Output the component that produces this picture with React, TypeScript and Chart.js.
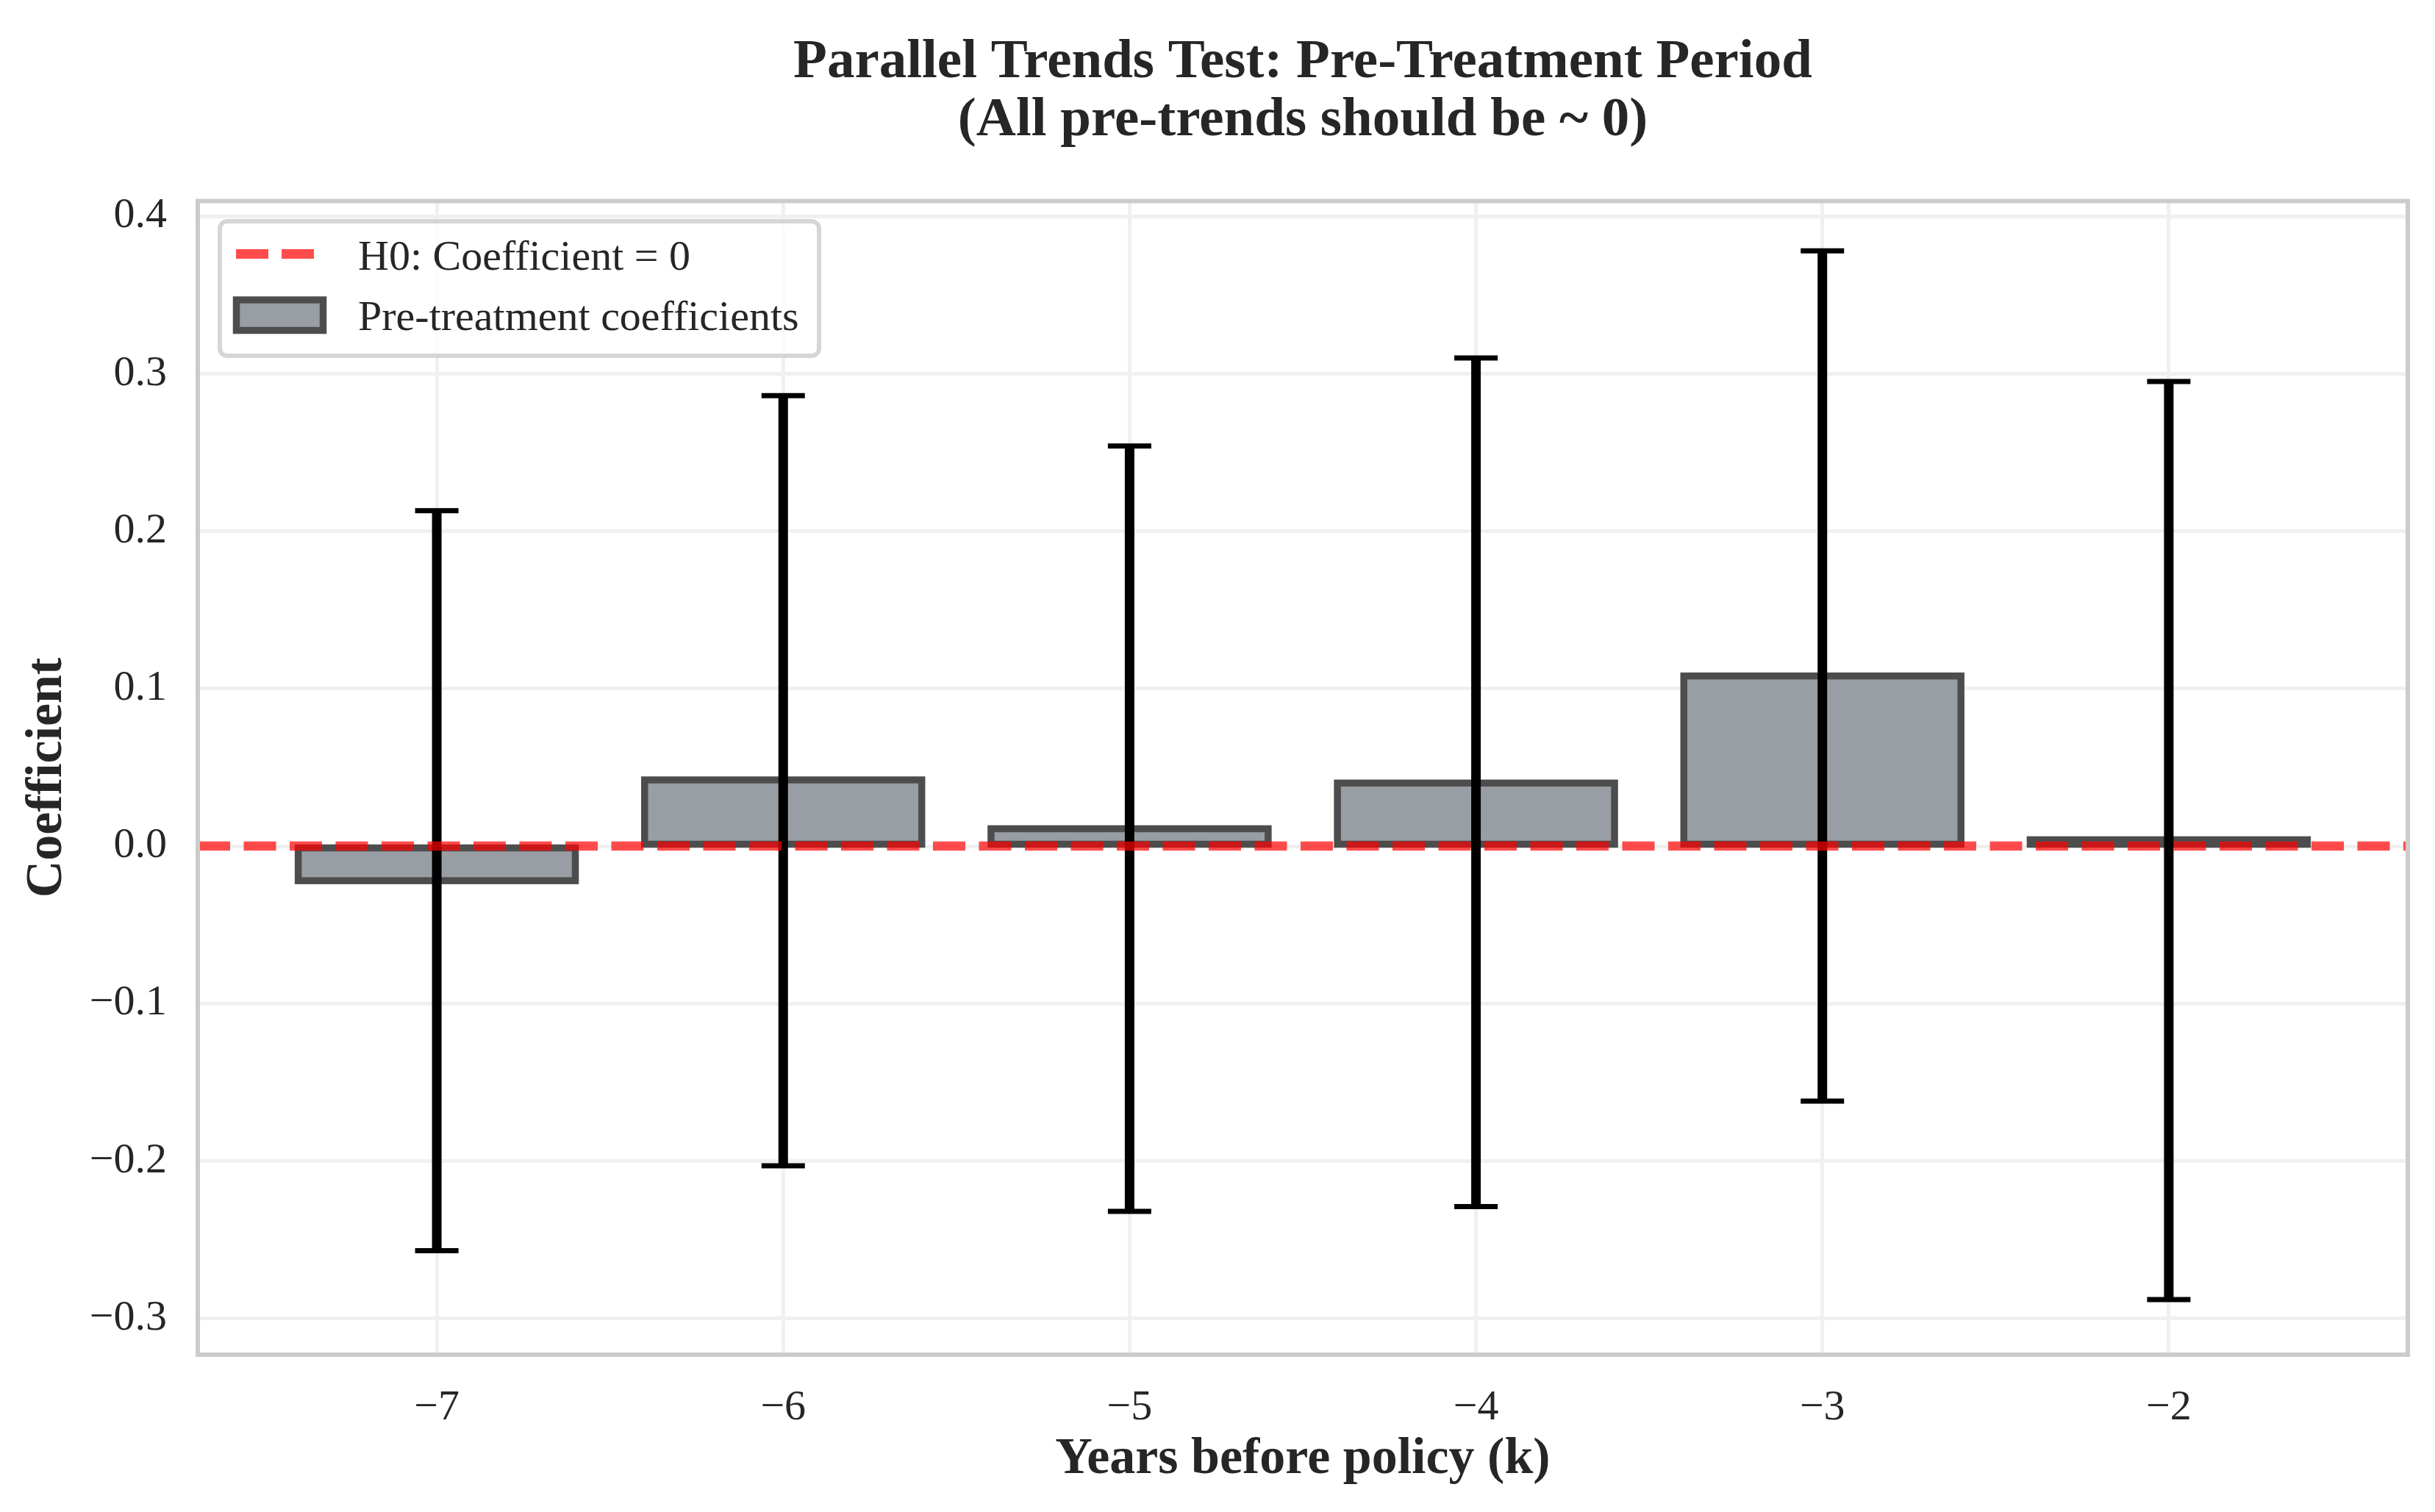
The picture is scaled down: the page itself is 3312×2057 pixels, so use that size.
import React, { useEffect, useRef } from 'react';
import { Chart, registerables } from 'chart.js';

Chart.register(...registerables);

// ---- data ----
const years = [-7, -6, -5, -4, -3, -2];
const coefficients = [-0.022, 0.042, 0.011, 0.040, 0.108, 0.004];
const ciLower = [-0.257, -0.203, -0.232, -0.229, -0.162, -0.288];
const ciUpper = [0.213, 0.286, 0.254, 0.310, 0.378, 0.295];

const titleLines = ['Parallel Trends Test: Pre-Treatment Period', '(All pre-trends should be ~ 0)'];
const xAxisTitle = 'Years before policy (k)';
const yAxisTitle = 'Coefficient';
const legendLineLabel = 'H0: Coefficient = 0';
const legendBarLabel = 'Pre-treatment coefficients';

const FONT = '"Liberation Serif", "Times New Roman", serif';
const TEXT = '#262626';
const RED = 'rgba(255,0,0,0.7)';
const BAR_FILL = 'rgb(152,158,164)';
const BAR_EDGE = '#4d4d4d';

const fmt = (v: number, d: number) => {
  const r = Math.round(v * Math.pow(10, d)) / Math.pow(10, d);
  if (Math.abs(r) < 1e-12) return (0).toFixed(d);
  return (r < 0 ? '\u2212' : '') + Math.abs(r).toFixed(d);
};

const overlayPlugin = {
  id: 'overlay',
  afterDatasetsDraw(chart: any) {
    const { ctx, chartArea: a } = chart;
    const x = chart.scales.x;
    const y = chart.scales.y;
    ctx.save();
    // bar edges, centred on the bar outline (as matplotlib does)
    const meta = chart.getDatasetMeta(0);
    ctx.strokeStyle = BAR_EDGE;
    ctx.lineWidth = 9.5;
    meta.data.forEach((el: any) => {
      const p = el.getProps(['x', 'y', 'base', 'width'], true);
      const top = Math.min(p.y, p.base);
      const h = Math.abs(p.y - p.base);
      ctx.strokeRect(p.x - p.width / 2, top, p.width, h);
    });
    // error bars
    ctx.strokeStyle = '#000000';
    ctx.lineCap = 'butt';
    years.forEach((yr, i) => {
      const px = x.getPixelForValue(yr);
      const pt = y.getPixelForValue(ciUpper[i]);
      const pb = y.getPixelForValue(ciLower[i]);
      ctx.lineWidth = 13;
      ctx.beginPath();
      ctx.moveTo(px, pt);
      ctx.lineTo(px, pb);
      ctx.stroke();
      ctx.lineWidth = 7;
      ctx.beginPath();
      ctx.moveTo(px - 29.5, pt);
      ctx.lineTo(px + 29.5, pt);
      ctx.moveTo(px - 29.5, pb);
      ctx.lineTo(px + 29.5, pb);
      ctx.stroke();
    });
    // H0 reference line
    const p0 = y.getPixelForValue(0);
    ctx.strokeStyle = RED;
    ctx.lineWidth = 12.5;
    ctx.setLineDash([44, 18.5]);
    ctx.beginPath();
    ctx.moveTo(a.left, p0);
    ctx.lineTo(a.right, p0);
    ctx.stroke();
    ctx.setLineDash([]);
    // frame
    ctx.strokeStyle = '#cccccc';
    ctx.lineWidth = 6;
    ctx.strokeRect(a.left, a.top, a.right - a.left, a.bottom - a.top);
    ctx.restore();
  },
  afterDraw(chart: any) {
    const { ctx, chartArea: a } = chart;
    const cx = (a.left + a.right) / 2;
    ctx.save();
    ctx.fillStyle = TEXT;
    // title
    ctx.font = `bold 75px ${FONT}`;
    ctx.textAlign = 'center';
    ctx.textBaseline = 'alphabetic';
    ctx.fillText(titleLines[0], cx, 105);
    ctx.fillText(titleLines[1], cx, 184);
    // x axis title
    ctx.font = `bold 70px ${FONT}`;
    ctx.fillText(xAxisTitle, cx, 2004);
    // y axis title
    ctx.save();
    ctx.translate(83, 1058);
    ctx.rotate(-Math.PI / 2);
    ctx.fillText(yAxisTitle, 0, 0);
    ctx.restore();

    // legend box
    const bx = 299, by = 301, bw = 815, bh = 183, r = 10;
    ctx.beginPath();
    ctx.moveTo(bx + r, by);
    ctx.lineTo(bx + bw - r, by);
    ctx.arcTo(bx + bw, by, bx + bw, by + r, r);
    ctx.lineTo(bx + bw, by + bh - r);
    ctx.arcTo(bx + bw, by + bh, bx + bw - r, by + bh, r);
    ctx.lineTo(bx + r, by + bh);
    ctx.arcTo(bx, by + bh, bx, by + bh - r, r);
    ctx.lineTo(bx, by + r);
    ctx.arcTo(bx, by, bx + r, by, r);
    ctx.closePath();
    ctx.fillStyle = 'rgba(255,255,255,0.8)';
    ctx.fill();
    ctx.strokeStyle = 'rgba(204,204,204,0.8)';
    ctx.lineWidth = 6;
    ctx.stroke();

    // legend line handle
    ctx.strokeStyle = RED;
    ctx.lineWidth = 13;
    ctx.setLineDash([44, 18]);
    ctx.beginPath();
    ctx.moveTo(321, 345.5);
    ctx.lineTo(427, 345.5);
    ctx.stroke();
    ctx.setLineDash([]);
    // legend patch handle
    ctx.fillStyle = BAR_FILL;
    ctx.fillRect(321.5, 408, 118, 41.5);
    ctx.strokeStyle = BAR_EDGE;
    ctx.lineWidth = 9.5;
    ctx.strokeRect(321.5, 408, 118, 41.5);

    // legend text
    ctx.fillStyle = TEXT;
    ctx.font = `58px ${FONT}`;
    ctx.textAlign = 'left';
    ctx.fillText(legendLineLabel, 487, 367);
    ctx.fillText(legendBarLabel, 487, 449);
    ctx.restore();
  },
};

export default function App() {
  const ref = useRef<HTMLCanvasElement | null>(null);
  useEffect(() => {
    document.body.style.margin = '0';
    const canvas = ref.current;
    if (!canvas) return;
    const chart = new Chart(canvas, {
      type: 'bar',
      data: {
        datasets: [
          {
            label: legendBarLabel,
            data: years.map((yr, i) => ({ x: yr, y: coefficients[i] })),
            backgroundColor: BAR_FILL,
            borderWidth: 0,
            borderSkipped: false,
            barPercentage: 0.8,
            categoryPercentage: 1,
          },
        ],
      },
      options: {
        animation: false,
        responsive: false,
        devicePixelRatio: 1,
        layout: { padding: { top: 273.5, right: 37, left: 0, bottom: 0 } },
        plugins: {
          legend: { display: false },
          tooltip: { enabled: false },
          title: { display: false },
        },
        scales: {
          x: {
            type: 'linear',
            min: -7.69,
            max: -1.31,
            offset: false,
            grid: { color: '#f0f0f0', lineWidth: 5, offset: false, drawTicks: false },
            border: { display: false },
            ticks: {
              stepSize: 1,
              includeBounds: false,
              padding: 38,
              color: TEXT,
              font: { family: FONT, size: 58 },
              callback: (v: any) => fmt(Number(v), 0),
            },
            afterFit: (s: any) => {
              s.height = 214;
            },
          },
          y: {
            type: 'linear',
            min: -0.323,
            max: 0.4096,
            grid: { color: '#f0f0f0', lineWidth: 5, drawTicks: false },
            border: { display: false },
            ticks: {
              stepSize: 0.1,
              includeBounds: false,
              padding: 42,
              color: TEXT,
              font: { family: FONT, size: 58 },
              callback: (v: any) => fmt(Number(v), 1),
            },
            afterFit: (s: any) => {
              s.width = 269;
            },
          },
        },
      },
      plugins: [overlayPlugin],
    } as any);
    return () => chart.destroy();
  }, []);
  return (
    <div style={{ width: 3312, height: 2057, background: '#ffffff' }}>
      <canvas ref={ref} width={3312} height={2057} style={{ display: 'block', width: 3312, height: 2057 }} />
    </div>
  );
}
